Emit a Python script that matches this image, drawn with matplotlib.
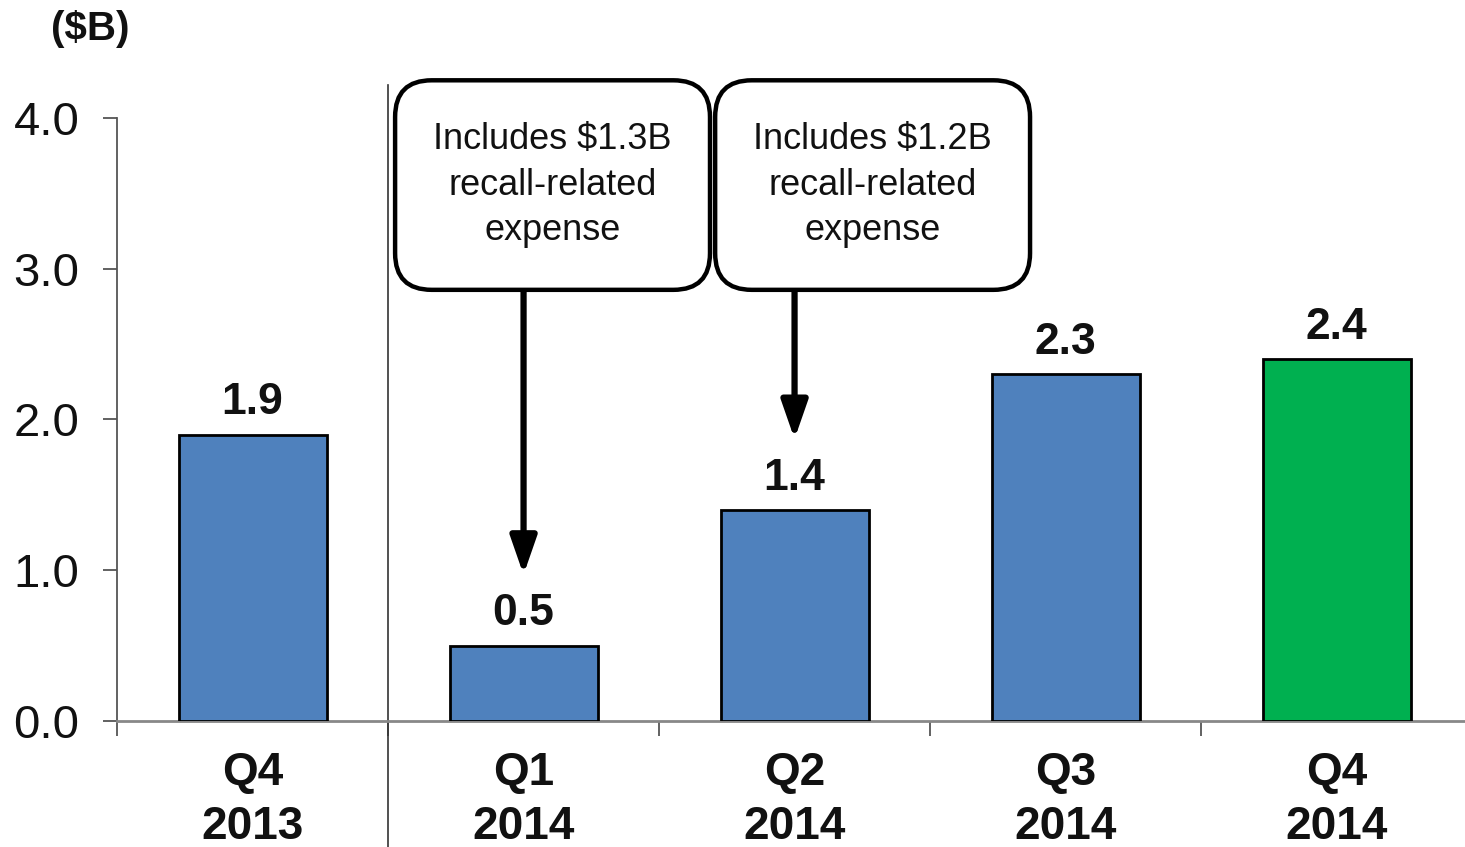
import matplotlib
matplotlib.use('Agg')
import matplotlib.pyplot as plt
from matplotlib.patches import FancyBboxPatch

plt.rcParams['font.family'] = ['Liberation Sans', 'DejaVu Sans']

# quarterly values, $B
quarters = ['Q4\n2013', 'Q1\n2014', 'Q2\n2014', 'Q3\n2014', 'Q4\n2014']
values = [1.9, 0.5, 1.4, 2.3, 2.4]
bar_colors = ['#4F81BD', '#4F81BD', '#4F81BD', '#4F81BD', '#00B050']

# call-out notes and the bar each one points at
notes = ['Includes $1.3B\nrecall-related\nexpense',
         'Includes $1.2B\nrecall-related\nexpense']
note_bars = [1, 2]

yticks = [0.0, 1.0, 2.0, 3.0, 4.0]

fig = plt.figure(figsize=(14.65, 8.47), dpi=100)
ax = fig.add_axes([0.0799, 0.1488, 0.9201, 0.7119])

x = list(range(len(values)))
ax.bar(x, values, width=0.546, color=bar_colors, edgecolor='black',
       linewidth=2, zorder=3)

for i, v in zip(x, values):
    ax.annotate('{:.1f}'.format(v), (i, v), xytext=(0, 8),
                textcoords='offset points', ha='center', va='bottom',
                fontsize=32, fontweight='bold', color='#111111')

for i, q in zip(x, quarters):
    ax.text(i, -0.2, q, ha='center', va='top', fontsize=33,
            fontweight='bold', linespacing=1.3, color='#111111')

ax.set_xlim(-0.5, 4.474)
ax.set_ylim(0, 4)

ax.set_yticks(yticks)
ax.set_yticklabels(['{:.1f}'.format(t) for t in yticks])
ax.set_xticks([-0.5, 0.5, 1.5, 2.5, 3.5])
ax.set_xticklabels([])
ax.tick_params(axis='y', direction='out', length=10, width=1.3,
               color='#555555', pad=17, labelsize=34, labelcolor='#111111')
ax.tick_params(axis='x', direction='out', length=11, width=1.3,
               color='#555555')

for side in ['top', 'right']:
    ax.spines[side].set_visible(False)
ax.spines['left'].set_color('#555555')
ax.spines['left'].set_linewidth(1.3)
ax.spines['bottom'].set_color('#888888')
ax.spines['bottom'].set_linewidth(2)

# separator between 2013 and 2014
ax.plot([0.5, 0.5], [4.22, -1.0], color='#333333', lw=1.2, clip_on=False,
        zorder=2)

# call-out boxes with arrows down to the bars
box_w = 1.162
box_bottom, box_top = 2.86, 4.25
box_centers = [1.107, 2.288]
for note, bi, cx in zip(notes, note_bars, box_centers):
    box = FancyBboxPatch((cx - box_w / 2, box_bottom), box_w,
                         box_top - box_bottom,
                         boxstyle='round,pad=0,rounding_size=0.135',
                         mutation_aspect=1.8, facecolor='white',
                         edgecolor='black', linewidth=3.2, clip_on=False,
                         zorder=5)
    ax.add_patch(box)
    ax.text(cx, (box_bottom + box_top) / 2, note, ha='center', va='center',
            fontsize=26, linespacing=1.4, color='#111111', zorder=6)
    ax.annotate('', xy=(bi, values[bi] + 0.47), xytext=(bi, box_bottom),
                arrowprops=dict(arrowstyle='-|>,head_length=2.3,head_width=0.8',
                                mutation_scale=10, lw=4.5, color='black',
                                shrinkA=0, shrinkB=0),
                zorder=4)

fig.text(0.035, 0.966, '($B)', ha='left', va='center', fontsize=29,
         fontweight='bold', color='#111111')

fig.savefig('out.png', dpi=100)
